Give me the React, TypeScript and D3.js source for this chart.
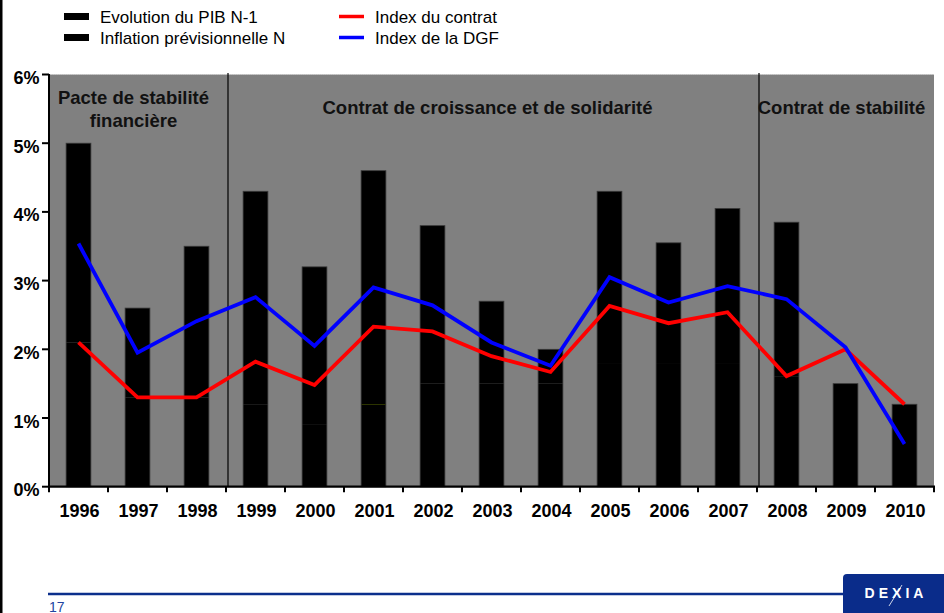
import React from "react";
import * as d3 from "d3";

const years = ["1996","1997","1998","1999","2000","2001","2002","2003","2004","2005","2006","2007","2008","2009","2010"];
const inflationN = [2.1, 1.3, 1.3, 1.2, 0.9, 1.2, 1.5, 1.5, 1.5, 1.8, 1.8, 1.8, 1.6, 1.5, 1.2];
const pibN1 = [2.9, 1.3, 2.2, 3.1, 2.3, 3.4, 2.3, 1.2, 0.5, 2.5, 1.75, 2.25, 2.25, 0, 0];
const indexContrat = [2.1, 1.3, 1.3, 1.82, 1.48, 2.33, 2.26, 1.9, 1.67, 2.63, 2.38, 2.54, 1.61, 2.0, 1.2];
const indexDGF = [3.54, 1.95, 2.41, 2.76, 2.05, 2.9, 2.64, 2.1, 1.76, 3.05, 2.68, 2.92, 2.73, 2.03, 0.62];
const yTicks = [0, 1, 2, 3, 4, 5, 6];
const periods = [
  { start: "1996", end: "1998", lines: ["Pacte de stabilité", "financière"] },
  { start: "1999", end: "2007", lines: ["Contrat de croissance et de solidarité"] },
  { start: "2008", end: "2010", lines: ["Contrat de stabilité"] },
];
const legendItems = [
  { label: "Evolution du PIB N-1", kind: "bar", color: "#000" },
  { label: "Inflation prévisionnelle N", kind: "bar", color: "#000" },
  { label: "Index du contrat", kind: "line", color: "#ff0000" },
  { label: "Index de la DGF", kind: "line", color: "#0000ff" },
];

const W = 944, H = 613;
const L = 49, R = 934, T = 74.5, B = 486.7;
const FONT = "'Liberation Sans', Arial, sans-serif";

export default function App() {
  const x = d3.scaleBand<string>().domain(years).range([L, R]).padding(0);
  const y = d3.scaleLinear().domain([0, 6]).range([B, T]);
  const bw = x.bandwidth();
  const barW = bw * 0.42;
  const cx = (yr: string) => (x(yr) as number) + bw / 2;

  const rows = years.map((yr, i) => ({ year: yr, infl: inflationN[i], pib: pibN1[i] }));
  const stacked = d3.stack<any>().keys(["infl", "pib"])(rows);
  const top = stacked[stacked.length - 1];

  const line = d3.line<number>().x((_, i) => cx(years[i])).y((v) => y(v));

  const sepYears = ["1999", "2008"];

  return (
    <div style={{ position: "fixed", left: 0, top: 0 }}>
      <svg width={W} height={H} style={{ display: "block", background: "#fff" }} fontFamily={FONT}>
        {/* page left border */}
        <rect x={0} y={0} width={2.5} height={H} fill="#000" />

        {/* legend */}
        {legendItems.map((it, i) => {
          const col = Math.floor(i / 2), row = i % 2;
          const lx = col === 0 ? 64 : 339;
          const ly = row === 0 ? 16.5 : 37.5;
          return (
            <g key={it.label}>
              {it.kind === "bar" ? (
                <rect x={lx} y={ly - 3.5} width={25} height={7} fill={it.color} />
              ) : (
                <line x1={lx} x2={lx + 25} y1={ly} y2={ly} stroke={it.color} strokeWidth={3.5} />
              )}
              <text x={lx + 36} y={ly + 6.5} fontSize={17} fill="#000">{it.label}</text>
            </g>
          );
        })}

        {/* plot area */}
        <rect x={L} y={T} width={R - L} height={B - T} fill="#808080" />
        <line x1={L} x2={R} y1={T} y2={T} stroke="#c8c8c8" strokeDasharray="1,1" strokeWidth={1} />

        {/* stacked bars */}
        {stacked.map((layer, li) =>
          layer.map((d, i) => {
            const yr = years[i];
            const y0 = y(d[0]), y1 = y(d[1]);
            if (y0 - y1 <= 0) return null;
            return (
              <rect key={li + "-" + yr} x={cx(yr) - barW / 2} y={y1} width={barW} height={y0 - y1} fill="#000" />
            );
          })
        )}
        {top.map((d, i) => (
          <rect key={"o" + i} x={cx(years[i]) - barW / 2} y={y(d[1])} width={barW} height={y(0) - y(d[1])}
            fill="none" stroke="#3a3a3a" strokeWidth={0.8} />
        ))}
        {/* visible junction (2001) between inflation and PIB segments */}
        {rows.filter((r) => r.year === "2001").map((r) => (
          <line key={"j" + r.year} x1={cx(r.year) - barW / 2 + 0.5} x2={cx(r.year) + barW / 2 - 0.5}
            y1={Math.round(y(r.infl)) + 0.5} y2={Math.round(y(r.infl)) + 0.5} stroke="#2c3400" strokeWidth={1} />
        ))}

        {/* period separators */}
        {sepYears.map((yr) => (
          <line key={"s" + yr} x1={(x(yr) as number) + 2} x2={(x(yr) as number) + 2} y1={T - 1.5} y2={B}
            stroke="#000" strokeWidth={1.2} />
        ))}

        {/* lines */}
        <path d={line(indexContrat) || ""} fill="none" stroke="#ff0000" strokeWidth={3.8} strokeLinejoin="miter" />
        <path d={line(indexDGF) || ""} fill="none" stroke="#0000ff" strokeWidth={3.8} strokeLinejoin="miter" />

        {/* period labels */}
        {periods.map((p) => {
          const x0 = x(p.start) as number;
          const x1 = (x(p.end) as number) + bw;
          const mid = (x0 + x1) / 2 - 4;
          return p.lines.map((t, k) => (
            <text key={t} x={mid} y={(p.lines.length > 1 ? 104.3 : 114.3) + k * 22.4} textAnchor="middle"
              fontSize={18.5} fontWeight="bold" fill="#111">{t}</text>
          ));
        })}

        {/* y axis */}
        <line x1={L} x2={L} y1={T - 0.5} y2={B + 1} stroke="#000" strokeWidth={2} />
        {yTicks.map((t) => (
          <g key={"y" + t}>
            <line x1={L - 7} x2={L} y1={y(t)} y2={y(t)} stroke="#000" strokeWidth={2} />
            <text x={39.5} y={y(t) + 9.5} textAnchor="end" fontSize={18} fontWeight="bold" fill="#000">{t}%</text>
          </g>
        ))}

        {/* x axis */}
        <line x1={L - 1} x2={R + 1} y1={B} y2={B} stroke="#000" strokeWidth={2.2} />
        {[...years.map((yr) => x(yr) as number), R].map((px, i) => (
          <line key={"xt" + i} x1={px} x2={px} y1={B} y2={B + 5.5} stroke="#000" strokeWidth={2} />
        ))}
        {years.map((yr) => (
          <text key={"xl" + yr} x={cx(yr) + 1} y={517} textAnchor="middle" fontSize={18} fontWeight="bold" fill="#000">{yr}</text>
        ))}

        {/* footer */}
        <line x1={48} x2={845} y1={594} y2={594} stroke="#0b2f8c" strokeWidth={2.3} />
        <text x={49} y={611.5} fontSize={14} fill="#2244a0">17</text>
        <rect x={843} y={574} width={110} height={45} rx={4} fill="#0a2c8a" />
        <text x={896} y={598} textAnchor="middle" fontSize={14} fontWeight="bold" fill="#fff" letterSpacing={4}>DEXIA</text>
        <line x1={889} x2={902} y1={606} y2={585} stroke="#fff" strokeWidth={0.8} />
      </svg>
    </div>
  );
}
